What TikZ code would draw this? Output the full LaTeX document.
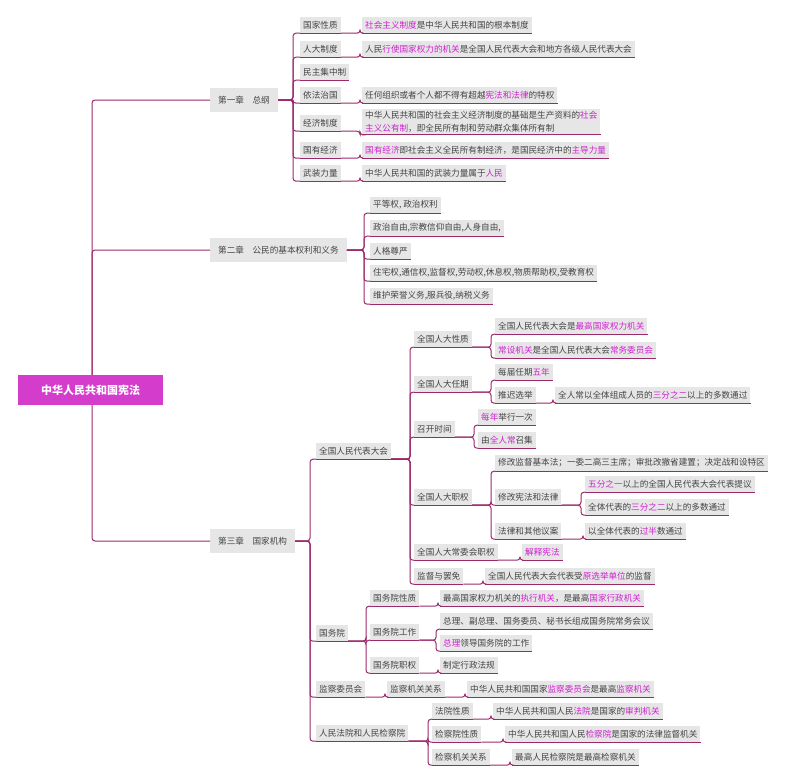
\documentclass[tikz,border=0pt]{standalone}
\usepackage{fontspec}
\newfontfamily\cjk{Noto Sans CJK SC}
\definecolor{gbg}{HTML}{E6E6E6}
\definecolor{txt}{HTML}{444444}
\definecolor{ln}{HTML}{9C2A6B}
\definecolor{hl}{HTML}{D020D0}
\definecolor{rootc}{HTML}{D43CCB}
\newcommand\hl[1]{\textcolor{hl}{#1}}
\newcommand\mnode[4]{\node[n] (#1) at (#2,#3) {#4};\draw[ul] (#1.south west) -- (#1.south east);}
\newcommand\edg[2]{\draw[conn] (#1.south east) -| ([xshift=-4pt]#2.south west) -- (#2.south west);}
\newcommand\edgx[3]{\draw[conn] (#1.south east) -| ([xshift=#3]#2.south west) -- (#2.south west);}
\tikzset{
 n/.style={fill=gbg, inner xsep=3pt, inner ysep=2pt, anchor=west, text=txt, minimum height=16pt, font=\cjk\fontsize{8.6}{11}\selectfont},
 ch/.style={n, minimum height=24pt, inner xsep=8pt},
 ul/.style={draw=ln, line width=1pt},
 conn/.style={draw=ln, line width=1pt, rounded corners=3pt},
}
\begin{document}
\begin{tikzpicture}[x=1pt,y=-1pt]
\useasboundingbox[fill=white] (0,0) rectangle (800,782);
% chapters
\node[ch] (c1) at (210,100) {第一章　总纲};
\node[ch] (c2) at (210,250) {第二章　公民的基本权利和义务};
\node[ch] (c3) at (210,541) {第三章　国家机构};
\draw[conn] (92,390) |- (c1.west);
\draw[conn] (92,390) |- (c2.west);
\draw[conn] (92,390) |- (c3.west);
\node[fill=rootc, text=white, font=\cjk\bfseries\fontsize{11}{13}\selectfont, minimum width=145pt, minimum height=30pt, anchor=west] (root) at (18,390) {中华人民共和国宪法};
% chapter 1
\mnode{a1}{300}{25}{国家性质}
\mnode{a2}{300}{49}{人大制度}
\mnode{a3}{300}{72}{民主集中制}
\mnode{a4}{300}{95}{依法治国}
\mnode{a5}{300}{123}{经济制度}
\mnode{a6}{300}{150}{国有经济}
\mnode{a7}{300}{173}{武装力量}
\foreach \k in {a1,a2,a3,a4,a5,a6,a7}{\draw[conn] (c1.east) -| ([xshift=-7pt]\k.south west) -- (\k.south west);}
\mnode{b1}{362}{25}{\hl{社会主义制度}是中华人民共和国的根本制度}
\mnode{b2}{362}{49}{人民\hl{行使国家权力的机关}是全国人民代表大会和地方各级人民代表大会}
\mnode{b4}{362}{95}{任何组织或者个人都不得有超越\hl{宪法和法律}的特权}
\node[n, align=left, font=\cjk\fontsize{8.6}{13}\selectfont] (b5) at (362,122) {中华人民共和国的社会主义经济制度的基础是生产资料的\hl{社会}\\\hl{主义公有制}，即全民所有制和劳动群众集体所有制};
\draw[ul] (b5.south west) -- (b5.south east);
\mnode{b6}{362}{150}{\hl{国有经济}即社会主义全民所有制经济，是国民经济中的\hl{主导力量}}
\mnode{b7}{362}{173}{中华人民共和国的武装力量属于\hl{人民}}
\foreach \p/\q in {a1/b1,a2/b2,a4/b4,a5/b5,a6/b6,a7/b7}{\draw[conn] (\p.south east) -| ([xshift=-2pt]\q.south west) -- (\q.south west);}
% chapter 2
\mnode{d1}{370}{205}{平等权, 政治权利}
\mnode{d2}{370}{228}{政治自由,宗教信仰自由,人身自由,}
\mnode{d3}{370}{251}{人格尊严}
\mnode{d4}{370}{273}{住宅权,通信权,监督权,劳动权,休息权,物质帮助权,受教育权}
\mnode{d5}{370}{296}{维护荣誉义务,服兵役,纳税义务}
\foreach \k in {d1,d2,d3,d4,d5}{\draw[conn] (c2.east) -| ([xshift=-6pt]\k.south west) -- (\k.south west);}
% chapter 3
\mnode{e1}{316}{451}{全国人民代表大会}
\mnode{e2}{316}{633}{国务院}
\mnode{e3}{316}{689}{监察委员会}
\mnode{e4}{316}{733}{人民法院和人民检察院}
\foreach \k in {e1,e2,e3,e4}{\draw[conn] (c3.east) -| ([xshift=-6pt]\k.south west) -- (\k.south west);}
% NPC
\mnode{f1}{414}{339}{全国人大性质}
\mnode{f2}{414}{384}{全国人大任期}
\mnode{f3}{414}{429}{召开时间}
\mnode{f4}{414}{497}{全国人大职权}
\mnode{f5}{414}{552}{全国人大常委会职权}
\mnode{f6}{414}{576}{监督与罢免}
\foreach \k in {f1,f2,f3,f4,f5,f6}{\edg{e1}{\k}}
\mnode{g1}{495}{326}{全国人民代表大会是\hl{最高国家权力机关}}
\mnode{g2}{495}{350}{\hl{常设机关}是全国人民代表大会\hl{常务委员会}}
\edg{f1}{g1}\edg{f1}{g2}
\mnode{g3}{495}{372}{每届任期\hl{五年}}
\mnode{g4}{495}{395}{推迟选举}
\edg{f2}{g3}\edg{f2}{g4}
\mnode{g5}{555}{395}{全人常以全体组成人员的\hl{三分之二}以上的多数通过}
\edgx{g4}{g5}{-2pt}
\mnode{g6}{478}{417}{\hl{每年}举行一次}
\mnode{g7}{478}{440}{由\hl{全人常}召集}
\edg{f3}{g6}\edg{f3}{g7}
\mnode{h1}{495}{463}{修改监督基本法；一委二高三主席；审批改撤省建置；决定战和设特区}
\mnode{h2}{495}{497}{修改宪法和法律}
\mnode{h3}{495}{531}{法律和其他议案}
\edg{f4}{h1}\edg{f4}{h2}\edg{f4}{h3}
\mnode{h4}{585}{484}{\hl{五分之一}以上的全国人民代表大会代表提议}
\mnode{h5}{585}{507}{全体代表的\hl{三分之二}以上的多数通过}
\edg{h2}{h4}\edg{h2}{h5}
\mnode{h6}{585}{531}{以全体代表的\hl{过半}数通过}
\edgx{h3}{h6}{-2pt}
\mnode{h7}{522}{552}{\hl{解释宪法}}
\edgx{f5}{h7}{-2pt}
\mnode{h8}{485}{576}{全国人民代表大会代表受\hl{原选举单位}的监督}
\edgx{f6}{h8}{-2pt}
% State council
\mnode{i1}{370}{598}{国务院性质}
\mnode{i2}{370}{632}{国务院工作}
\mnode{i3}{370}{665}{国务院职权}
\foreach \k in {i1,i2,i3}{\edg{e2}{\k}}
\mnode{j1}{440}{598}{最高国家权力机关的\hl{执行机关}，是最高\hl{国家行政机关}}
\mnode{j2}{440}{621}{总理、副总理、国务委员、秘书长组成国务院常务会议}
\mnode{j3}{440}{643}{\hl{总理}领导国务院的工作}
\mnode{j4}{440}{665}{制定行政法规}
\edgx{i1}{j1}{-2pt}\edg{i2}{j2}\edg{i2}{j3}\edgx{i3}{j4}{-2pt}
% supervision
\mnode{k1}{387}{689}{监察机关关系}
\edgx{e3}{k1}{-2pt}
\mnode{k2}{467}{689}{中华人民共和国国家\hl{监察委员会}是最高\hl{监察机关}}
\edgx{k1}{k2}{-2pt}
% courts
\mnode{l1}{432}{711}{法院性质}
\mnode{l2}{432}{734}{检察院性质}
\mnode{l3}{432}{757}{检察机关关系}
\foreach \k in {l1,l2,l3}{\edg{e4}{\k}}
\mnode{m1}{493}{711}{中华人民共和国人民\hl{法院}是国家的\hl{审判机关}}
\mnode{m2}{505}{734}{中华人民共和国人民\hl{检察院}是国家的法律监督机关}
\mnode{m3}{512}{757}{最高人民检察院是最高检察机关}
\edgx{l1}{m1}{-2pt}\edgx{l2}{m2}{-2pt}\edgx{l3}{m3}{-2pt}
\end{tikzpicture}
\end{document}
